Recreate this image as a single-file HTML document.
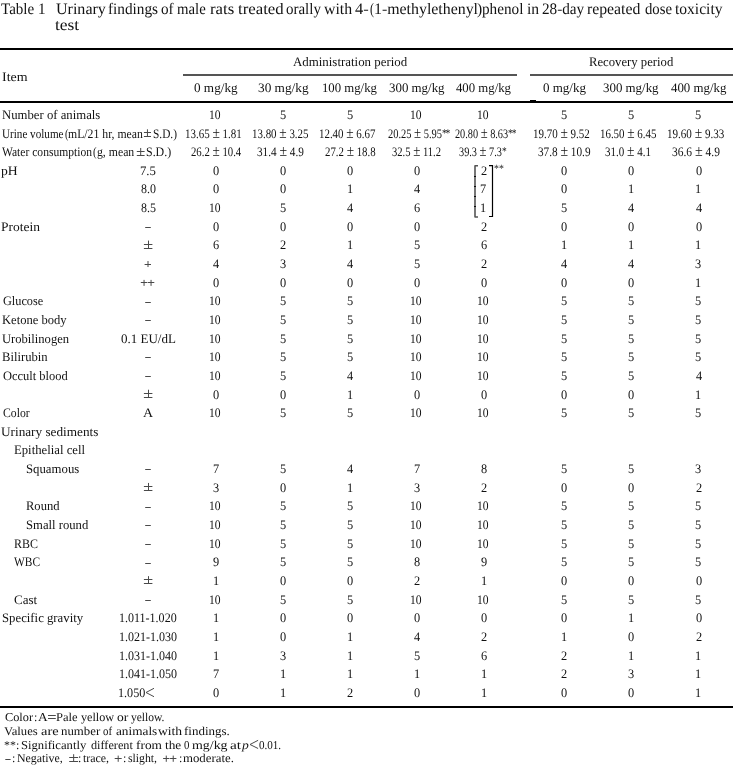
<!DOCTYPE html>
<html><head><meta charset="utf-8"><style>
html,body{margin:0;padding:0;background:#fff;width:733px;height:766px;overflow:hidden;position:relative}
.t{position:absolute;white-space:nowrap;font-family:"Liberation Serif",serif;color:#111;line-height:20px;transform-origin:0 0}.pm{font-size:16px;line-height:1px}.ast{font-size:12px;letter-spacing:-1.5px;vertical-align:1px;line-height:1px}
.r{position:absolute}
#wrap{position:absolute;left:0;top:0;width:733px;height:766px;will-change:transform}
</style></head><body><div id="wrap">
<div class="r" style="left:0px;top:48px;width:733px;height:2px;background:#000"></div>
<div class="r" style="left:183px;top:74px;width:334px;height:2px;background:#555"></div>
<div class="r" style="left:530px;top:74px;width:203px;height:2px;background:#555"></div>
<div class="r" style="left:0px;top:101px;width:733px;height:2px;background:#000"></div>
<div class="r" style="left:530px;top:99.8px;width:5.5px;height:3.4px;background:#000"></div>
<div class="r" style="left:0px;top:706px;width:733px;height:2px;background:#000"></div>
<svg style="position:absolute;left:0;top:0" width="733" height="766">
<path d="M475 165.7 H478 M475 165.2 V217.5 M475 217 H478" stroke="#555" stroke-width="1.6" fill="none"/>
<path d="M475 176 v1 M475 186 v1 M475 196 v1 M475 206 v1" stroke="#000" stroke-width="1.8" fill="none"/>
<path d="M489 165.7 H492.5 V216.5 H489" stroke="#000" stroke-width="1.2" fill="none"/>
</svg>
<svg style="position:absolute;left:0;top:0" width="733" height="766"><path d="M145.2 227.5 H150.8 M143.9 244.5 H152.4 M143.9 248.5 H152.4 M148.5 240.59 V248.39 M144.6 264.5 H151 M148 261.04 V267.04 M140.8 282.5 H147.3 M144.05 279.88 V285.88 M147.8 282.5 H154.3 M151.05 279.88 V285.88 M145.2 302.5 H150.8 M145.2 320.5 H150.8 M145.2 357.5 H150.8 M145.2 376.5 H150.8 M143.9 393.5 H152.4 M143.9 397.5 H152.4 M148.5 389.73 V397.53 M145.2 469.5 H150.8 M143.9 486.5 H152.4 M143.9 490.5 H152.4 M148.5 482.94 V490.74 M145.2 507.5 H150.8 M145.2 525.5 H150.8 M145.2 544.5 H150.8 M145.2 563.5 H150.8 M143.9 579.5 H152.4 M143.9 583.5 H152.4 M148.5 576.15 V583.95 M145.2 600.5 H150.8 M143.9 132.5 H151.0 M143.9 136.5 H151.0 M147.45 129.34 V136.74 M136.8 151.5 H144.60000000000002 M136.8 155.5 H144.60000000000002 M140.70 147.98 V155.38 M5.3 759.5 H10.6 M69.2 757.5 H78.10000000000001 M69.2 761.5 H78.10000000000001 M73.65 754.20 V761.60 M114.7 758.5 H121.7 M118.20 755.60 V761.80 M163.1 758.5 H169.45 M166.28 755.60 V761.80 M170.05 758.5 H176.4 M173.22 755.60 V761.80 M154 688.3 L146 692.5 L154 696.7 M48 715.5 H55.8 M48 718.5 H55.8 M258.1 740.3 L250 744.5 L258.1 748.5" stroke="#4a4a4a" stroke-width="1" fill="none"/></svg>
<div class="t" style="left:0.60px;top:-1.10px;font-size:16px;transform:scaleX(0.9413) rotate(0.05deg);">Table 1</div>
<div class="t" style="left:56.30px;top:-1.10px;font-size:16px;transform:scaleX(1.0021) rotate(0.05deg);">Urinary</div>
<div class="t" style="left:108.25px;top:-1.10px;font-size:16px;transform:scaleX(0.9549) rotate(0.05deg);">findings</div>
<div class="t" style="left:160.75px;top:-1.10px;font-size:16px;transform:scaleX(0.9462) rotate(0.05deg);">of</div>
<div class="t" style="left:176.68px;top:-1.10px;font-size:16px;transform:scaleX(0.9233) rotate(0.05deg);">male</div>
<div class="t" style="left:209.95px;top:-1.10px;font-size:16px;transform:scaleX(1.0455) rotate(0.05deg);">rats</div>
<div class="t" style="left:237.55px;top:-1.10px;font-size:16px;transform:scaleX(1.0500) rotate(0.05deg);">treated</div>
<div class="t" style="left:286.36px;top:-1.10px;font-size:16px;transform:scaleX(0.9361) rotate(0.05deg);">orally</div>
<div class="t" style="left:323.91px;top:-1.10px;font-size:16px;transform:scaleX(0.9889) rotate(0.05deg);">with</div>
<div class="t" style="left:354.50px;top:-1.10px;font-size:16px;transform:scaleX(1.0308) rotate(0.05deg);">4-</div>
<div class="t" style="left:370.05px;top:-1.10px;font-size:16px;transform:scaleX(0.7500) rotate(0.05deg);">(</div>
<div class="t" style="left:373.62px;top:-1.10px;font-size:16px;transform:scaleX(0.9922) rotate(0.05deg);">1-methylethenyl</div>
<div class="t" style="left:476.72px;top:-1.10px;font-size:16px;transform:scaleX(0.9750) rotate(0.05deg);">)</div>
<div class="t" style="left:482.35px;top:-1.10px;font-size:16px;transform:scaleX(0.9500) rotate(0.05deg);">phenol</div>
<div class="t" style="left:526.63px;top:-1.10px;font-size:16px;transform:scaleX(0.9727) rotate(0.05deg);">in</div>
<div class="t" style="left:541.75px;top:-1.10px;font-size:16px;transform:scaleX(0.9488) rotate(0.05deg);">28-day</div>
<div class="t" style="left:586.82px;top:-1.10px;font-size:16px;transform:scaleX(0.9849) rotate(0.05deg);">repeated</div>
<div class="t" style="left:644.50px;top:-1.10px;font-size:16px;transform:scaleX(0.9207) rotate(0.05deg);">dose</div>
<div class="t" style="left:675.33px;top:-1.10px;font-size:16px;transform:scaleX(0.9723) rotate(0.05deg);">toxicity</div>
<div class="t" style="left:55.41px;top:14.50px;font-size:16px;transform:scaleX(1.0905) rotate(0.05deg);">test</div>
<div class="t" style="left:1.83px;top:66.50px;font-size:13px;transform:scaleX(1.0727) rotate(0.05deg);">Item</div>
<div class="t" style="left:292.51px;top:52.40px;font-size:13px;transform:scaleX(0.9912) rotate(0.05deg);">Administration period</div>
<div class="t" style="left:588.92px;top:52.20px;font-size:13px;transform:scaleX(0.9765) rotate(0.05deg);">Recovery period</div>
<div class="t" style="left:194.20px;top:77.90px;font-size:13px;transform:scaleX(1.0140) rotate(0.05deg);">0 mg/kg</div>
<div class="t" style="left:257.53px;top:77.90px;font-size:13px;transform:scaleX(1.0229) rotate(0.05deg);">30 mg/kg</div>
<div class="t" style="left:322.04px;top:77.90px;font-size:13px;transform:scaleX(0.9815) rotate(0.05deg);">100 mg/kg</div>
<div class="t" style="left:388.51px;top:77.90px;font-size:13px;transform:scaleX(0.9927) rotate(0.05deg);">300 mg/kg</div>
<div class="t" style="left:455.90px;top:77.90px;font-size:13px;transform:scaleX(0.9821) rotate(0.05deg);">400 mg/kg</div>
<div class="t" style="left:542.50px;top:77.90px;font-size:13px;transform:rotate(0.05deg);">0 mg/kg</div>
<div class="t" style="left:602.91px;top:77.90px;font-size:13px;transform:scaleX(0.9927) rotate(0.05deg);">300 mg/kg</div>
<div class="t" style="left:670.80px;top:77.90px;font-size:13px;transform:scaleX(0.9893) rotate(0.05deg);">400 mg/kg</div>
<div class="t" style="left:1.52px;top:104.90px;font-size:13px;transform:scaleX(0.9798) rotate(0.05deg);">Number of animals</div>
<div class="t" style="left:209.32px;top:104.90px;font-size:13px;transform:scaleX(0.8909) rotate(0.05deg);">10</div>
<div class="t" style="left:279.68px;top:104.90px;font-size:13px;transform:scaleX(0.9500) rotate(0.05deg);">5</div>
<div class="t" style="left:346.68px;top:104.90px;font-size:13px;transform:scaleX(0.9500) rotate(0.05deg);">5</div>
<div class="t" style="left:410.32px;top:104.90px;font-size:13px;transform:scaleX(0.8909) rotate(0.05deg);">10</div>
<div class="t" style="left:477.32px;top:104.90px;font-size:13px;transform:scaleX(0.8909) rotate(0.05deg);">10</div>
<div class="t" style="left:560.88px;top:104.90px;font-size:13px;transform:scaleX(0.9500) rotate(0.05deg);">5</div>
<div class="t" style="left:627.88px;top:104.90px;font-size:13px;transform:scaleX(0.9500) rotate(0.05deg);">5</div>
<div class="t" style="left:695.27px;top:104.90px;font-size:13px;transform:scaleX(0.9500) rotate(0.05deg);">5</div>
<div class="t" style="left:1.64px;top:123.54px;font-size:13px;transform:scaleX(0.8563) rotate(0.05deg);">Urine volume</div>
<div class="t" style="left:64.50px;top:123.54px;font-size:13px;transform:scaleX(0.7750) rotate(0.05deg);">(</div>
<div class="t" style="left:67.90px;top:123.54px;font-size:13px;transform:scaleX(0.9037) rotate(0.05deg);">mL/21 hr, mean</div>
<div class="t" style="left:153.43px;top:123.54px;font-size:13px;transform:scaleX(0.8731) rotate(0.05deg);">S.D.)</div>
<div class="t" style="left:184.81px;top:123.54px;font-size:13px;transform:scaleX(0.8438) rotate(0.05deg);">13.65 <span class="pm">±</span> 1.81</div>
<div class="t" style="left:251.92px;top:123.54px;font-size:13px;transform:scaleX(0.8400) rotate(0.05deg);">13.80 <span class="pm">±</span> 3.25</div>
<div class="t" style="left:319.07px;top:123.54px;font-size:13px;transform:scaleX(0.8385) rotate(0.05deg);">12.40 <span class="pm">±</span> 6.67</div>
<div class="t" style="left:388.05px;top:123.54px;font-size:13px;transform:scaleX(0.8013) rotate(0.05deg);">20.25 <span class="pm">±</span> 5.95<span class="ast">**</span></div>
<div class="t" style="left:454.80px;top:123.54px;font-size:13px;transform:scaleX(0.7896) rotate(0.05deg);">20.80 <span class="pm">±</span> 8.63<span class="ast">**</span></div>
<div class="t" style="left:533.21px;top:123.54px;font-size:13px;transform:scaleX(0.8431) rotate(0.05deg);">19.70 <span class="pm">±</span> 9.52</div>
<div class="t" style="left:599.97px;top:123.54px;font-size:13px;transform:scaleX(0.8385) rotate(0.05deg);">16.50 <span class="pm">±</span> 6.45</div>
<div class="t" style="left:666.65px;top:123.54px;font-size:13px;transform:scaleX(0.8508) rotate(0.05deg);">19.60 <span class="pm">±</span> 9.33</div>
<div class="t" style="left:1.61px;top:142.18px;font-size:13px;transform:scaleX(0.8900) rotate(0.05deg);">Water consumption</div>
<div class="t" style="left:93.40px;top:142.18px;font-size:13px;transform:scaleX(0.8250) rotate(0.05deg);">(</div>
<div class="t" style="left:97.09px;top:142.18px;font-size:13px;transform:scaleX(0.9050) rotate(0.05deg);">g, mean</div>
<div class="t" style="left:146.28px;top:142.18px;font-size:13px;transform:scaleX(0.9192) rotate(0.05deg);">S.D.)</div>
<div class="t" style="left:190.60px;top:142.18px;font-size:13px;transform:scaleX(0.8262) rotate(0.05deg);">26.2 <span class="pm">±</span> 10.4</div>
<div class="t" style="left:256.54px;top:142.18px;font-size:13px;transform:scaleX(0.8642) rotate(0.05deg);">31.4 <span class="pm">±</span> 4.9</div>
<div class="t" style="left:325.00px;top:142.18px;font-size:13px;transform:scaleX(0.8333) rotate(0.05deg);">27.2 <span class="pm">±</span> 18.8</div>
<div class="t" style="left:392.19px;top:142.18px;font-size:13px;transform:scaleX(0.8136) rotate(0.05deg);">32.5 <span class="pm">±</span> 11.2</div>
<div class="t" style="left:458.86px;top:142.18px;font-size:13px;transform:scaleX(0.7915) rotate(0.05deg);">39.3 <span class="pm">±</span> 7.3<span class="ast">*</span></div>
<div class="t" style="left:537.84px;top:142.18px;font-size:13px;transform:scaleX(0.8644) rotate(0.05deg);">37.8 <span class="pm">±</span> 10.9</div>
<div class="t" style="left:605.05px;top:142.18px;font-size:13px;transform:scaleX(0.8462) rotate(0.05deg);">31.0 <span class="pm">±</span> 4.1</div>
<div class="t" style="left:671.72px;top:142.18px;font-size:13px;transform:scaleX(0.8830) rotate(0.05deg);">36.6 <span class="pm">±</span> 4.9</div>
<div class="t" style="left:1.45px;top:160.83px;font-size:13px;transform:scaleX(1.0500) rotate(0.05deg);">pH</div>
<div class="t" style="left:140.07px;top:160.83px;font-size:13px;transform:scaleX(0.9800) rotate(0.05deg);">7.5</div>
<div class="t" style="left:213.15px;top:160.83px;font-size:13px;transform:scaleX(0.9500) rotate(0.05deg);">0</div>
<div class="t" style="left:280.15px;top:160.83px;font-size:13px;transform:scaleX(0.9500) rotate(0.05deg);">0</div>
<div class="t" style="left:347.15px;top:160.83px;font-size:13px;transform:scaleX(0.9500) rotate(0.05deg);">0</div>
<div class="t" style="left:414.15px;top:160.83px;font-size:13px;transform:scaleX(0.9500) rotate(0.05deg);">0</div>
<div class="t" style="left:561.35px;top:160.83px;font-size:13px;transform:scaleX(0.9500) rotate(0.05deg);">0</div>
<div class="t" style="left:628.35px;top:160.83px;font-size:13px;transform:scaleX(0.9500) rotate(0.05deg);">0</div>
<div class="t" style="left:695.75px;top:160.83px;font-size:13px;transform:scaleX(0.9500) rotate(0.05deg);">0</div>
<div class="t" style="left:141.05px;top:179.47px;font-size:13px;transform:scaleX(0.9187) rotate(0.05deg);">8.0</div>
<div class="t" style="left:213.15px;top:179.47px;font-size:13px;transform:scaleX(0.9500) rotate(0.05deg);">0</div>
<div class="t" style="left:280.15px;top:179.47px;font-size:13px;transform:scaleX(0.9500) rotate(0.05deg);">0</div>
<div class="t" style="left:346.68px;top:179.47px;font-size:13px;transform:scaleX(0.9500) rotate(0.05deg);">1</div>
<div class="t" style="left:414.15px;top:179.47px;font-size:13px;transform:scaleX(0.9500) rotate(0.05deg);">4</div>
<div class="t" style="left:561.35px;top:179.47px;font-size:13px;transform:scaleX(0.9500) rotate(0.05deg);">0</div>
<div class="t" style="left:627.88px;top:179.47px;font-size:13px;transform:scaleX(0.9500) rotate(0.05deg);">1</div>
<div class="t" style="left:695.28px;top:179.47px;font-size:13px;transform:scaleX(0.9500) rotate(0.05deg);">1</div>
<div class="t" style="left:141.05px;top:198.11px;font-size:13px;transform:scaleX(0.9187) rotate(0.05deg);">8.5</div>
<div class="t" style="left:209.32px;top:198.11px;font-size:13px;transform:scaleX(0.8909) rotate(0.05deg);">10</div>
<div class="t" style="left:279.68px;top:198.11px;font-size:13px;transform:scaleX(0.9500) rotate(0.05deg);">5</div>
<div class="t" style="left:347.15px;top:198.11px;font-size:13px;transform:scaleX(0.9500) rotate(0.05deg);">4</div>
<div class="t" style="left:414.15px;top:198.11px;font-size:13px;transform:scaleX(0.9500) rotate(0.05deg);">6</div>
<div class="t" style="left:560.88px;top:198.11px;font-size:13px;transform:scaleX(0.9500) rotate(0.05deg);">5</div>
<div class="t" style="left:628.35px;top:198.11px;font-size:13px;transform:scaleX(0.9500) rotate(0.05deg);">4</div>
<div class="t" style="left:695.75px;top:198.11px;font-size:13px;transform:scaleX(0.9500) rotate(0.05deg);">4</div>
<div class="t" style="left:1.46px;top:216.75px;font-size:13px;transform:scaleX(1.0361) rotate(0.05deg);">Protein</div>
<div class="t" style="left:213.15px;top:216.75px;font-size:13px;transform:scaleX(0.9500) rotate(0.05deg);">0</div>
<div class="t" style="left:280.15px;top:216.75px;font-size:13px;transform:scaleX(0.9500) rotate(0.05deg);">0</div>
<div class="t" style="left:347.15px;top:216.75px;font-size:13px;transform:scaleX(0.9500) rotate(0.05deg);">0</div>
<div class="t" style="left:414.15px;top:216.75px;font-size:13px;transform:scaleX(0.9500) rotate(0.05deg);">0</div>
<div class="t" style="left:481.15px;top:216.75px;font-size:13px;transform:scaleX(0.9500) rotate(0.05deg);">2</div>
<div class="t" style="left:561.35px;top:216.75px;font-size:13px;transform:scaleX(0.9500) rotate(0.05deg);">0</div>
<div class="t" style="left:628.35px;top:216.75px;font-size:13px;transform:scaleX(0.9500) rotate(0.05deg);">0</div>
<div class="t" style="left:695.75px;top:216.75px;font-size:13px;transform:scaleX(0.9500) rotate(0.05deg);">0</div>
<div class="t" style="left:213.15px;top:235.39px;font-size:13px;transform:scaleX(0.9500) rotate(0.05deg);">6</div>
<div class="t" style="left:280.15px;top:235.39px;font-size:13px;transform:scaleX(0.9500) rotate(0.05deg);">2</div>
<div class="t" style="left:346.68px;top:235.39px;font-size:13px;transform:scaleX(0.9500) rotate(0.05deg);">1</div>
<div class="t" style="left:413.68px;top:235.39px;font-size:13px;transform:scaleX(0.9500) rotate(0.05deg);">5</div>
<div class="t" style="left:481.15px;top:235.39px;font-size:13px;transform:scaleX(0.9500) rotate(0.05deg);">6</div>
<div class="t" style="left:560.88px;top:235.39px;font-size:13px;transform:scaleX(0.9500) rotate(0.05deg);">1</div>
<div class="t" style="left:627.88px;top:235.39px;font-size:13px;transform:scaleX(0.9500) rotate(0.05deg);">1</div>
<div class="t" style="left:695.28px;top:235.39px;font-size:13px;transform:scaleX(0.9500) rotate(0.05deg);">1</div>
<div class="t" style="left:213.15px;top:254.04px;font-size:13px;transform:scaleX(0.9500) rotate(0.05deg);">4</div>
<div class="t" style="left:279.68px;top:254.04px;font-size:13px;transform:scaleX(0.9500) rotate(0.05deg);">3</div>
<div class="t" style="left:347.15px;top:254.04px;font-size:13px;transform:scaleX(0.9500) rotate(0.05deg);">4</div>
<div class="t" style="left:413.68px;top:254.04px;font-size:13px;transform:scaleX(0.9500) rotate(0.05deg);">5</div>
<div class="t" style="left:481.15px;top:254.04px;font-size:13px;transform:scaleX(0.9500) rotate(0.05deg);">2</div>
<div class="t" style="left:561.35px;top:254.04px;font-size:13px;transform:scaleX(0.9500) rotate(0.05deg);">4</div>
<div class="t" style="left:628.35px;top:254.04px;font-size:13px;transform:scaleX(0.9500) rotate(0.05deg);">4</div>
<div class="t" style="left:695.27px;top:254.04px;font-size:13px;transform:scaleX(0.9500) rotate(0.05deg);">3</div>
<div class="t" style="left:213.15px;top:272.68px;font-size:13px;transform:scaleX(0.9500) rotate(0.05deg);">0</div>
<div class="t" style="left:280.15px;top:272.68px;font-size:13px;transform:scaleX(0.9500) rotate(0.05deg);">0</div>
<div class="t" style="left:347.15px;top:272.68px;font-size:13px;transform:scaleX(0.9500) rotate(0.05deg);">0</div>
<div class="t" style="left:414.15px;top:272.68px;font-size:13px;transform:scaleX(0.9500) rotate(0.05deg);">0</div>
<div class="t" style="left:481.15px;top:272.68px;font-size:13px;transform:scaleX(0.9500) rotate(0.05deg);">0</div>
<div class="t" style="left:561.35px;top:272.68px;font-size:13px;transform:scaleX(0.9500) rotate(0.05deg);">0</div>
<div class="t" style="left:628.35px;top:272.68px;font-size:13px;transform:scaleX(0.9500) rotate(0.05deg);">0</div>
<div class="t" style="left:695.28px;top:272.68px;font-size:13px;transform:scaleX(0.9500) rotate(0.05deg);">1</div>
<div class="t" style="left:2.50px;top:291.32px;font-size:13px;transform:scaleX(0.9452) rotate(0.05deg);">Glucose</div>
<div class="t" style="left:209.32px;top:291.32px;font-size:13px;transform:scaleX(0.8909) rotate(0.05deg);">10</div>
<div class="t" style="left:279.68px;top:291.32px;font-size:13px;transform:scaleX(0.9500) rotate(0.05deg);">5</div>
<div class="t" style="left:346.68px;top:291.32px;font-size:13px;transform:scaleX(0.9500) rotate(0.05deg);">5</div>
<div class="t" style="left:410.32px;top:291.32px;font-size:13px;transform:scaleX(0.8909) rotate(0.05deg);">10</div>
<div class="t" style="left:477.32px;top:291.32px;font-size:13px;transform:scaleX(0.8909) rotate(0.05deg);">10</div>
<div class="t" style="left:560.88px;top:291.32px;font-size:13px;transform:scaleX(0.9500) rotate(0.05deg);">5</div>
<div class="t" style="left:627.88px;top:291.32px;font-size:13px;transform:scaleX(0.9500) rotate(0.05deg);">5</div>
<div class="t" style="left:695.27px;top:291.32px;font-size:13px;transform:scaleX(0.9500) rotate(0.05deg);">5</div>
<div class="t" style="left:1.53px;top:309.96px;font-size:13px;transform:scaleX(0.9667) rotate(0.05deg);">Ketone body</div>
<div class="t" style="left:209.32px;top:309.96px;font-size:13px;transform:scaleX(0.8909) rotate(0.05deg);">10</div>
<div class="t" style="left:279.68px;top:309.96px;font-size:13px;transform:scaleX(0.9500) rotate(0.05deg);">5</div>
<div class="t" style="left:346.68px;top:309.96px;font-size:13px;transform:scaleX(0.9500) rotate(0.05deg);">5</div>
<div class="t" style="left:410.32px;top:309.96px;font-size:13px;transform:scaleX(0.8909) rotate(0.05deg);">10</div>
<div class="t" style="left:477.32px;top:309.96px;font-size:13px;transform:scaleX(0.8909) rotate(0.05deg);">10</div>
<div class="t" style="left:560.88px;top:309.96px;font-size:13px;transform:scaleX(0.9500) rotate(0.05deg);">5</div>
<div class="t" style="left:627.88px;top:309.96px;font-size:13px;transform:scaleX(0.9500) rotate(0.05deg);">5</div>
<div class="t" style="left:695.27px;top:309.96px;font-size:13px;transform:scaleX(0.9500) rotate(0.05deg);">5</div>
<div class="t" style="left:1.53px;top:328.60px;font-size:13px;transform:scaleX(0.9676) rotate(0.05deg);">Urobilinogen</div>
<div class="t" style="left:120.80px;top:328.60px;font-size:13px;transform:rotate(0.05deg);">0.1 EU/dL</div>
<div class="t" style="left:209.32px;top:328.60px;font-size:13px;transform:scaleX(0.8909) rotate(0.05deg);">10</div>
<div class="t" style="left:279.68px;top:328.60px;font-size:13px;transform:scaleX(0.9500) rotate(0.05deg);">5</div>
<div class="t" style="left:346.68px;top:328.60px;font-size:13px;transform:scaleX(0.9500) rotate(0.05deg);">5</div>
<div class="t" style="left:410.32px;top:328.60px;font-size:13px;transform:scaleX(0.8909) rotate(0.05deg);">10</div>
<div class="t" style="left:477.32px;top:328.60px;font-size:13px;transform:scaleX(0.8909) rotate(0.05deg);">10</div>
<div class="t" style="left:560.88px;top:328.60px;font-size:13px;transform:scaleX(0.9500) rotate(0.05deg);">5</div>
<div class="t" style="left:627.88px;top:328.60px;font-size:13px;transform:scaleX(0.9500) rotate(0.05deg);">5</div>
<div class="t" style="left:695.27px;top:328.60px;font-size:13px;transform:scaleX(0.9500) rotate(0.05deg);">5</div>
<div class="t" style="left:1.53px;top:347.25px;font-size:13px;transform:scaleX(0.9717) rotate(0.05deg);">Bilirubin</div>
<div class="t" style="left:209.32px;top:347.25px;font-size:13px;transform:scaleX(0.8909) rotate(0.05deg);">10</div>
<div class="t" style="left:279.68px;top:347.25px;font-size:13px;transform:scaleX(0.9500) rotate(0.05deg);">5</div>
<div class="t" style="left:346.68px;top:347.25px;font-size:13px;transform:scaleX(0.9500) rotate(0.05deg);">5</div>
<div class="t" style="left:410.32px;top:347.25px;font-size:13px;transform:scaleX(0.8909) rotate(0.05deg);">10</div>
<div class="t" style="left:477.32px;top:347.25px;font-size:13px;transform:scaleX(0.8909) rotate(0.05deg);">10</div>
<div class="t" style="left:560.88px;top:347.25px;font-size:13px;transform:scaleX(0.9500) rotate(0.05deg);">5</div>
<div class="t" style="left:627.88px;top:347.25px;font-size:13px;transform:scaleX(0.9500) rotate(0.05deg);">5</div>
<div class="t" style="left:695.27px;top:347.25px;font-size:13px;transform:scaleX(0.9500) rotate(0.05deg);">5</div>
<div class="t" style="left:2.50px;top:365.89px;font-size:13px;transform:scaleX(0.9597) rotate(0.05deg);">Occult blood</div>
<div class="t" style="left:209.32px;top:365.89px;font-size:13px;transform:scaleX(0.8909) rotate(0.05deg);">10</div>
<div class="t" style="left:279.68px;top:365.89px;font-size:13px;transform:scaleX(0.9500) rotate(0.05deg);">5</div>
<div class="t" style="left:347.15px;top:365.89px;font-size:13px;transform:scaleX(0.9500) rotate(0.05deg);">4</div>
<div class="t" style="left:410.32px;top:365.89px;font-size:13px;transform:scaleX(0.8909) rotate(0.05deg);">10</div>
<div class="t" style="left:477.32px;top:365.89px;font-size:13px;transform:scaleX(0.8909) rotate(0.05deg);">10</div>
<div class="t" style="left:560.88px;top:365.89px;font-size:13px;transform:scaleX(0.9500) rotate(0.05deg);">5</div>
<div class="t" style="left:627.88px;top:365.89px;font-size:13px;transform:scaleX(0.9500) rotate(0.05deg);">5</div>
<div class="t" style="left:695.75px;top:365.89px;font-size:13px;transform:scaleX(0.9500) rotate(0.05deg);">4</div>
<div class="t" style="left:213.15px;top:384.53px;font-size:13px;transform:scaleX(0.9500) rotate(0.05deg);">0</div>
<div class="t" style="left:280.15px;top:384.53px;font-size:13px;transform:scaleX(0.9500) rotate(0.05deg);">0</div>
<div class="t" style="left:346.68px;top:384.53px;font-size:13px;transform:scaleX(0.9500) rotate(0.05deg);">1</div>
<div class="t" style="left:414.15px;top:384.53px;font-size:13px;transform:scaleX(0.9500) rotate(0.05deg);">0</div>
<div class="t" style="left:481.15px;top:384.53px;font-size:13px;transform:scaleX(0.9500) rotate(0.05deg);">0</div>
<div class="t" style="left:561.35px;top:384.53px;font-size:13px;transform:scaleX(0.9500) rotate(0.05deg);">0</div>
<div class="t" style="left:628.35px;top:384.53px;font-size:13px;transform:scaleX(0.9500) rotate(0.05deg);">0</div>
<div class="t" style="left:695.28px;top:384.53px;font-size:13px;transform:scaleX(0.9500) rotate(0.05deg);">1</div>
<div class="t" style="left:2.50px;top:403.17px;font-size:13px;transform:scaleX(0.9000) rotate(0.05deg);">Color</div>
<div class="t" style="left:142.62px;top:403.17px;font-size:13px;transform:scaleX(1.0750) rotate(0.05deg);">A</div>
<div class="t" style="left:209.32px;top:403.17px;font-size:13px;transform:scaleX(0.8909) rotate(0.05deg);">10</div>
<div class="t" style="left:279.68px;top:403.17px;font-size:13px;transform:scaleX(0.9500) rotate(0.05deg);">5</div>
<div class="t" style="left:346.68px;top:403.17px;font-size:13px;transform:scaleX(0.9500) rotate(0.05deg);">5</div>
<div class="t" style="left:410.32px;top:403.17px;font-size:13px;transform:scaleX(0.8909) rotate(0.05deg);">10</div>
<div class="t" style="left:477.32px;top:403.17px;font-size:13px;transform:scaleX(0.8909) rotate(0.05deg);">10</div>
<div class="t" style="left:560.88px;top:403.17px;font-size:13px;transform:scaleX(0.9500) rotate(0.05deg);">5</div>
<div class="t" style="left:627.88px;top:403.17px;font-size:13px;transform:scaleX(0.9500) rotate(0.05deg);">5</div>
<div class="t" style="left:695.27px;top:403.17px;font-size:13px;transform:scaleX(0.9500) rotate(0.05deg);">5</div>
<div class="t" style="left:1.48px;top:421.81px;font-size:13px;transform:scaleX(1.0181) rotate(0.05deg);">Urinary sediments</div>
<div class="t" style="left:14.22px;top:440.45px;font-size:13px;transform:scaleX(0.9789) rotate(0.05deg);">Epithelial cell</div>
<div class="t" style="left:25.52px;top:459.10px;font-size:13px;transform:scaleX(0.9830) rotate(0.05deg);">Squamous</div>
<div class="t" style="left:212.68px;top:459.10px;font-size:13px;transform:scaleX(0.9500) rotate(0.05deg);">7</div>
<div class="t" style="left:279.68px;top:459.10px;font-size:13px;transform:scaleX(0.9500) rotate(0.05deg);">5</div>
<div class="t" style="left:347.15px;top:459.10px;font-size:13px;transform:scaleX(0.9500) rotate(0.05deg);">4</div>
<div class="t" style="left:413.68px;top:459.10px;font-size:13px;transform:scaleX(0.9500) rotate(0.05deg);">7</div>
<div class="t" style="left:481.15px;top:459.10px;font-size:13px;transform:scaleX(0.9500) rotate(0.05deg);">8</div>
<div class="t" style="left:560.88px;top:459.10px;font-size:13px;transform:scaleX(0.9500) rotate(0.05deg);">5</div>
<div class="t" style="left:627.88px;top:459.10px;font-size:13px;transform:scaleX(0.9500) rotate(0.05deg);">5</div>
<div class="t" style="left:695.27px;top:459.10px;font-size:13px;transform:scaleX(0.9500) rotate(0.05deg);">3</div>
<div class="t" style="left:212.68px;top:477.74px;font-size:13px;transform:scaleX(0.9500) rotate(0.05deg);">3</div>
<div class="t" style="left:280.15px;top:477.74px;font-size:13px;transform:scaleX(0.9500) rotate(0.05deg);">0</div>
<div class="t" style="left:346.68px;top:477.74px;font-size:13px;transform:scaleX(0.9500) rotate(0.05deg);">1</div>
<div class="t" style="left:413.68px;top:477.74px;font-size:13px;transform:scaleX(0.9500) rotate(0.05deg);">3</div>
<div class="t" style="left:481.15px;top:477.74px;font-size:13px;transform:scaleX(0.9500) rotate(0.05deg);">2</div>
<div class="t" style="left:561.35px;top:477.74px;font-size:13px;transform:scaleX(0.9500) rotate(0.05deg);">0</div>
<div class="t" style="left:628.35px;top:477.74px;font-size:13px;transform:scaleX(0.9500) rotate(0.05deg);">0</div>
<div class="t" style="left:695.75px;top:477.74px;font-size:13px;transform:scaleX(0.9500) rotate(0.05deg);">2</div>
<div class="t" style="left:25.53px;top:496.38px;font-size:13px;transform:scaleX(0.9667) rotate(0.05deg);">Round</div>
<div class="t" style="left:209.32px;top:496.38px;font-size:13px;transform:scaleX(0.8909) rotate(0.05deg);">10</div>
<div class="t" style="left:279.68px;top:496.38px;font-size:13px;transform:scaleX(0.9500) rotate(0.05deg);">5</div>
<div class="t" style="left:346.68px;top:496.38px;font-size:13px;transform:scaleX(0.9500) rotate(0.05deg);">5</div>
<div class="t" style="left:410.32px;top:496.38px;font-size:13px;transform:scaleX(0.8909) rotate(0.05deg);">10</div>
<div class="t" style="left:477.32px;top:496.38px;font-size:13px;transform:scaleX(0.8909) rotate(0.05deg);">10</div>
<div class="t" style="left:560.88px;top:496.38px;font-size:13px;transform:scaleX(0.9500) rotate(0.05deg);">5</div>
<div class="t" style="left:627.88px;top:496.38px;font-size:13px;transform:scaleX(0.9500) rotate(0.05deg);">5</div>
<div class="t" style="left:695.27px;top:496.38px;font-size:13px;transform:scaleX(0.9500) rotate(0.05deg);">5</div>
<div class="t" style="left:25.53px;top:515.02px;font-size:13px;transform:scaleX(0.9746) rotate(0.05deg);">Small round</div>
<div class="t" style="left:209.32px;top:515.02px;font-size:13px;transform:scaleX(0.8909) rotate(0.05deg);">10</div>
<div class="t" style="left:279.68px;top:515.02px;font-size:13px;transform:scaleX(0.9500) rotate(0.05deg);">5</div>
<div class="t" style="left:346.68px;top:515.02px;font-size:13px;transform:scaleX(0.9500) rotate(0.05deg);">5</div>
<div class="t" style="left:410.32px;top:515.02px;font-size:13px;transform:scaleX(0.8909) rotate(0.05deg);">10</div>
<div class="t" style="left:477.32px;top:515.02px;font-size:13px;transform:scaleX(0.8909) rotate(0.05deg);">10</div>
<div class="t" style="left:560.88px;top:515.02px;font-size:13px;transform:scaleX(0.9500) rotate(0.05deg);">5</div>
<div class="t" style="left:627.88px;top:515.02px;font-size:13px;transform:scaleX(0.9500) rotate(0.05deg);">5</div>
<div class="t" style="left:695.27px;top:515.02px;font-size:13px;transform:scaleX(0.9500) rotate(0.05deg);">5</div>
<div class="t" style="left:14.28px;top:533.66px;font-size:13px;transform:scaleX(0.9208) rotate(0.05deg);">RBC</div>
<div class="t" style="left:209.32px;top:533.66px;font-size:13px;transform:scaleX(0.8909) rotate(0.05deg);">10</div>
<div class="t" style="left:279.68px;top:533.66px;font-size:13px;transform:scaleX(0.9500) rotate(0.05deg);">5</div>
<div class="t" style="left:346.68px;top:533.66px;font-size:13px;transform:scaleX(0.9500) rotate(0.05deg);">5</div>
<div class="t" style="left:410.32px;top:533.66px;font-size:13px;transform:scaleX(0.8909) rotate(0.05deg);">10</div>
<div class="t" style="left:477.32px;top:533.66px;font-size:13px;transform:scaleX(0.8909) rotate(0.05deg);">10</div>
<div class="t" style="left:560.88px;top:533.66px;font-size:13px;transform:scaleX(0.9500) rotate(0.05deg);">5</div>
<div class="t" style="left:627.88px;top:533.66px;font-size:13px;transform:scaleX(0.9500) rotate(0.05deg);">5</div>
<div class="t" style="left:695.27px;top:533.66px;font-size:13px;transform:scaleX(0.9500) rotate(0.05deg);">5</div>
<div class="t" style="left:14.32px;top:552.31px;font-size:13px;transform:scaleX(0.8786) rotate(0.05deg);">WBC</div>
<div class="t" style="left:213.15px;top:552.31px;font-size:13px;transform:scaleX(0.9500) rotate(0.05deg);">9</div>
<div class="t" style="left:279.68px;top:552.31px;font-size:13px;transform:scaleX(0.9500) rotate(0.05deg);">5</div>
<div class="t" style="left:346.68px;top:552.31px;font-size:13px;transform:scaleX(0.9500) rotate(0.05deg);">5</div>
<div class="t" style="left:414.15px;top:552.31px;font-size:13px;transform:scaleX(0.9500) rotate(0.05deg);">8</div>
<div class="t" style="left:481.15px;top:552.31px;font-size:13px;transform:scaleX(0.9500) rotate(0.05deg);">9</div>
<div class="t" style="left:560.88px;top:552.31px;font-size:13px;transform:scaleX(0.9500) rotate(0.05deg);">5</div>
<div class="t" style="left:627.88px;top:552.31px;font-size:13px;transform:scaleX(0.9500) rotate(0.05deg);">5</div>
<div class="t" style="left:695.27px;top:552.31px;font-size:13px;transform:scaleX(0.9500) rotate(0.05deg);">5</div>
<div class="t" style="left:212.67px;top:570.95px;font-size:13px;transform:scaleX(0.9500) rotate(0.05deg);">1</div>
<div class="t" style="left:280.15px;top:570.95px;font-size:13px;transform:scaleX(0.9500) rotate(0.05deg);">0</div>
<div class="t" style="left:347.15px;top:570.95px;font-size:13px;transform:scaleX(0.9500) rotate(0.05deg);">0</div>
<div class="t" style="left:414.15px;top:570.95px;font-size:13px;transform:scaleX(0.9500) rotate(0.05deg);">2</div>
<div class="t" style="left:480.68px;top:570.95px;font-size:13px;transform:scaleX(0.9500) rotate(0.05deg);">1</div>
<div class="t" style="left:561.35px;top:570.95px;font-size:13px;transform:scaleX(0.9500) rotate(0.05deg);">0</div>
<div class="t" style="left:628.35px;top:570.95px;font-size:13px;transform:scaleX(0.9500) rotate(0.05deg);">0</div>
<div class="t" style="left:695.75px;top:570.95px;font-size:13px;transform:scaleX(0.9500) rotate(0.05deg);">0</div>
<div class="t" style="left:14.20px;top:589.59px;font-size:13px;transform:scaleX(1.0043) rotate(0.05deg);">Cast</div>
<div class="t" style="left:209.32px;top:589.59px;font-size:13px;transform:scaleX(0.8909) rotate(0.05deg);">10</div>
<div class="t" style="left:279.68px;top:589.59px;font-size:13px;transform:scaleX(0.9500) rotate(0.05deg);">5</div>
<div class="t" style="left:346.68px;top:589.59px;font-size:13px;transform:scaleX(0.9500) rotate(0.05deg);">5</div>
<div class="t" style="left:410.32px;top:589.59px;font-size:13px;transform:scaleX(0.8909) rotate(0.05deg);">10</div>
<div class="t" style="left:477.32px;top:589.59px;font-size:13px;transform:scaleX(0.8909) rotate(0.05deg);">10</div>
<div class="t" style="left:560.88px;top:589.59px;font-size:13px;transform:scaleX(0.9500) rotate(0.05deg);">5</div>
<div class="t" style="left:627.88px;top:589.59px;font-size:13px;transform:scaleX(0.9500) rotate(0.05deg);">5</div>
<div class="t" style="left:695.27px;top:589.59px;font-size:13px;transform:scaleX(0.9500) rotate(0.05deg);">5</div>
<div class="t" style="left:1.52px;top:608.23px;font-size:13px;transform:scaleX(0.9817) rotate(0.05deg);">Specific gravity</div>
<div class="t" style="left:118.95px;top:608.23px;font-size:13px;transform:scaleX(0.9250) rotate(0.05deg);">1.011-1.020</div>
<div class="t" style="left:212.67px;top:608.23px;font-size:13px;transform:scaleX(0.9500) rotate(0.05deg);">1</div>
<div class="t" style="left:280.15px;top:608.23px;font-size:13px;transform:scaleX(0.9500) rotate(0.05deg);">0</div>
<div class="t" style="left:347.15px;top:608.23px;font-size:13px;transform:scaleX(0.9500) rotate(0.05deg);">0</div>
<div class="t" style="left:414.15px;top:608.23px;font-size:13px;transform:scaleX(0.9500) rotate(0.05deg);">0</div>
<div class="t" style="left:481.15px;top:608.23px;font-size:13px;transform:scaleX(0.9500) rotate(0.05deg);">0</div>
<div class="t" style="left:561.35px;top:608.23px;font-size:13px;transform:scaleX(0.9500) rotate(0.05deg);">0</div>
<div class="t" style="left:627.88px;top:608.23px;font-size:13px;transform:scaleX(0.9500) rotate(0.05deg);">1</div>
<div class="t" style="left:695.75px;top:608.23px;font-size:13px;transform:scaleX(0.9500) rotate(0.05deg);">0</div>
<div class="t" style="left:118.95px;top:626.87px;font-size:13px;transform:scaleX(0.9250) rotate(0.05deg);">1.021-1.030</div>
<div class="t" style="left:212.67px;top:626.87px;font-size:13px;transform:scaleX(0.9500) rotate(0.05deg);">1</div>
<div class="t" style="left:280.15px;top:626.87px;font-size:13px;transform:scaleX(0.9500) rotate(0.05deg);">0</div>
<div class="t" style="left:346.68px;top:626.87px;font-size:13px;transform:scaleX(0.9500) rotate(0.05deg);">1</div>
<div class="t" style="left:414.15px;top:626.87px;font-size:13px;transform:scaleX(0.9500) rotate(0.05deg);">4</div>
<div class="t" style="left:481.15px;top:626.87px;font-size:13px;transform:scaleX(0.9500) rotate(0.05deg);">2</div>
<div class="t" style="left:560.88px;top:626.87px;font-size:13px;transform:scaleX(0.9500) rotate(0.05deg);">1</div>
<div class="t" style="left:628.35px;top:626.87px;font-size:13px;transform:scaleX(0.9500) rotate(0.05deg);">0</div>
<div class="t" style="left:695.75px;top:626.87px;font-size:13px;transform:scaleX(0.9500) rotate(0.05deg);">2</div>
<div class="t" style="left:118.95px;top:645.52px;font-size:13px;transform:scaleX(0.9250) rotate(0.05deg);">1.031-1.040</div>
<div class="t" style="left:212.67px;top:645.52px;font-size:13px;transform:scaleX(0.9500) rotate(0.05deg);">1</div>
<div class="t" style="left:279.68px;top:645.52px;font-size:13px;transform:scaleX(0.9500) rotate(0.05deg);">3</div>
<div class="t" style="left:346.68px;top:645.52px;font-size:13px;transform:scaleX(0.9500) rotate(0.05deg);">1</div>
<div class="t" style="left:413.68px;top:645.52px;font-size:13px;transform:scaleX(0.9500) rotate(0.05deg);">5</div>
<div class="t" style="left:481.15px;top:645.52px;font-size:13px;transform:scaleX(0.9500) rotate(0.05deg);">6</div>
<div class="t" style="left:561.35px;top:645.52px;font-size:13px;transform:scaleX(0.9500) rotate(0.05deg);">2</div>
<div class="t" style="left:627.88px;top:645.52px;font-size:13px;transform:scaleX(0.9500) rotate(0.05deg);">1</div>
<div class="t" style="left:695.28px;top:645.52px;font-size:13px;transform:scaleX(0.9500) rotate(0.05deg);">1</div>
<div class="t" style="left:118.95px;top:664.16px;font-size:13px;transform:scaleX(0.9250) rotate(0.05deg);">1.041-1.050</div>
<div class="t" style="left:212.68px;top:664.16px;font-size:13px;transform:scaleX(0.9500) rotate(0.05deg);">7</div>
<div class="t" style="left:279.68px;top:664.16px;font-size:13px;transform:scaleX(0.9500) rotate(0.05deg);">1</div>
<div class="t" style="left:346.68px;top:664.16px;font-size:13px;transform:scaleX(0.9500) rotate(0.05deg);">1</div>
<div class="t" style="left:413.68px;top:664.16px;font-size:13px;transform:scaleX(0.9500) rotate(0.05deg);">1</div>
<div class="t" style="left:480.68px;top:664.16px;font-size:13px;transform:scaleX(0.9500) rotate(0.05deg);">1</div>
<div class="t" style="left:561.35px;top:664.16px;font-size:13px;transform:scaleX(0.9500) rotate(0.05deg);">2</div>
<div class="t" style="left:627.88px;top:664.16px;font-size:13px;transform:scaleX(0.9500) rotate(0.05deg);">3</div>
<div class="t" style="left:695.28px;top:664.16px;font-size:13px;transform:scaleX(0.9500) rotate(0.05deg);">1</div>
<div class="t" style="left:118.03px;top:682.80px;font-size:13px;transform:scaleX(0.9333) rotate(0.05deg);">1.050</div>
<div class="t" style="left:213.15px;top:682.80px;font-size:13px;transform:scaleX(0.9500) rotate(0.05deg);">0</div>
<div class="t" style="left:279.68px;top:682.80px;font-size:13px;transform:scaleX(0.9500) rotate(0.05deg);">1</div>
<div class="t" style="left:347.15px;top:682.80px;font-size:13px;transform:scaleX(0.9500) rotate(0.05deg);">2</div>
<div class="t" style="left:414.15px;top:682.80px;font-size:13px;transform:scaleX(0.9500) rotate(0.05deg);">0</div>
<div class="t" style="left:480.68px;top:682.80px;font-size:13px;transform:scaleX(0.9500) rotate(0.05deg);">1</div>
<div class="t" style="left:561.35px;top:682.80px;font-size:13px;transform:scaleX(0.9500) rotate(0.05deg);">0</div>
<div class="t" style="left:628.35px;top:682.80px;font-size:13px;transform:scaleX(0.9500) rotate(0.05deg);">0</div>
<div class="t" style="left:695.28px;top:682.80px;font-size:13px;transform:scaleX(0.9500) rotate(0.05deg);">1</div>
<div class="t" style="left:480.65px;top:160.83px;font-size:13px;transform:scaleX(0.9500) rotate(0.05deg);">2</div>
<div class="t" style="left:480.18px;top:179.47px;font-size:13px;transform:scaleX(0.9500) rotate(0.05deg);">7</div>
<div class="t" style="left:480.18px;top:198.11px;font-size:13px;transform:scaleX(0.9500) rotate(0.05deg);">1</div>
<div class="t" style="left:494.21px;top:158.10px;font-size:11px;transform:scaleX(0.8889) rotate(0.05deg);">**</div>
<div class="t" style="left:4.90px;top:706.80px;font-size:12px;transform:scaleX(1.0259) rotate(0.05deg);">Color</div>
<div class="t" style="left:33.60px;top:706.80px;font-size:12px;transform:rotate(0.05deg);">:</div>
<div class="t" style="left:37.89px;top:706.80px;font-size:12px;transform:scaleX(1.1143) rotate(0.05deg);">A</div>
<div class="t" style="left:56.16px;top:706.80px;font-size:12px;transform:scaleX(1.0421) rotate(0.05deg);">Pale</div>
<div class="t" style="left:80.79px;top:706.80px;font-size:12px;transform:scaleX(1.0129) rotate(0.05deg);">yellow</div>
<div class="t" style="left:116.90px;top:706.80px;font-size:12px;transform:scaleX(1.1300) rotate(0.05deg);">or</div>
<div class="t" style="left:131.24px;top:706.80px;font-size:12px;transform:scaleX(0.9606) rotate(0.05deg);">yellow.</div>
<div class="t" style="left:3.85px;top:720.70px;font-size:12px;transform:scaleX(1.0548) rotate(0.05deg);">Values</div>
<div class="t" style="left:40.60px;top:720.70px;font-size:12px;transform:scaleX(1.2000) rotate(0.05deg);">are</div>
<div class="t" style="left:60.53px;top:720.70px;font-size:12px;transform:scaleX(1.0694) rotate(0.05deg);">number</div>
<div class="t" style="left:103.40px;top:720.70px;font-size:12px;transform:scaleX(0.9000) rotate(0.05deg);">of</div>
<div class="t" style="left:115.70px;top:720.70px;font-size:12px;transform:scaleX(1.1054) rotate(0.05deg);">animals</div>
<div class="t" style="left:158.27px;top:720.70px;font-size:12px;transform:scaleX(1.1300) rotate(0.05deg);">with</div>
<div class="t" style="left:183.52px;top:720.70px;font-size:12px;transform:scaleX(1.0829) rotate(0.05deg);">findings.</div>
<div class="t" style="left:3.91px;top:734.60px;font-size:12px;transform:scaleX(0.9900) rotate(0.05deg);">**</div>
<div class="t" style="left:16.40px;top:734.60px;font-size:12px;transform:rotate(0.05deg);">:</div>
<div class="t" style="left:20.75px;top:734.60px;font-size:12px;transform:scaleX(1.0525) rotate(0.05deg);">Significantly</div>
<div class="t" style="left:91.10px;top:734.60px;font-size:12px;transform:scaleX(1.0195) rotate(0.05deg);">different</div>
<div class="t" style="left:135.89px;top:734.60px;font-size:12px;transform:scaleX(1.1136) rotate(0.05deg);">from</div>
<div class="t" style="left:164.80px;top:734.60px;font-size:12px;transform:scaleX(1.1071) rotate(0.05deg);">the</div>
<div class="t" style="left:183.90px;top:734.60px;font-size:12px;transform:scaleX(0.9000) rotate(0.05deg);">0</div>
<div class="t" style="left:191.54px;top:734.60px;font-size:12px;transform:scaleX(1.1600) rotate(0.05deg);">mg/kg</div>
<div class="t" style="left:229.60px;top:734.60px;font-size:12px;transform:scaleX(1.2750) rotate(0.05deg);">at</div>
<div class="t" style="left:241.90px;top:734.60px;font-size:12px;transform:scaleX(1.1333) rotate(0.05deg);"><i>p</i></div>
<div class="t" style="left:258.60px;top:734.60px;font-size:12px;transform:scaleX(0.9217) rotate(0.05deg);">0.01.</div>
<div class="t" style="left:12.00px;top:748.40px;font-size:12px;transform:rotate(0.05deg);">:</div>
<div class="t" style="left:16.81px;top:748.40px;font-size:12px;transform:scaleX(0.9889) rotate(0.05deg);">Negative,</div>
<div class="t" style="left:78.20px;top:748.40px;font-size:12px;transform:rotate(0.05deg);">:</div>
<div class="t" style="left:83.00px;top:748.40px;font-size:12px;transform:scaleX(0.9923) rotate(0.05deg);">trace,</div>
<div class="t" style="left:122.80px;top:748.40px;font-size:12px;transform:rotate(0.05deg);">:</div>
<div class="t" style="left:128.20px;top:748.40px;font-size:12px;transform:scaleX(0.9793) rotate(0.05deg);">slight,</div>
<div class="t" style="left:178.60px;top:748.40px;font-size:12px;transform:rotate(0.05deg);">:</div>
<div class="t" style="left:182.93px;top:748.40px;font-size:12px;transform:scaleX(1.0674) rotate(0.05deg);">moderate.</div>
</div></body></html>
